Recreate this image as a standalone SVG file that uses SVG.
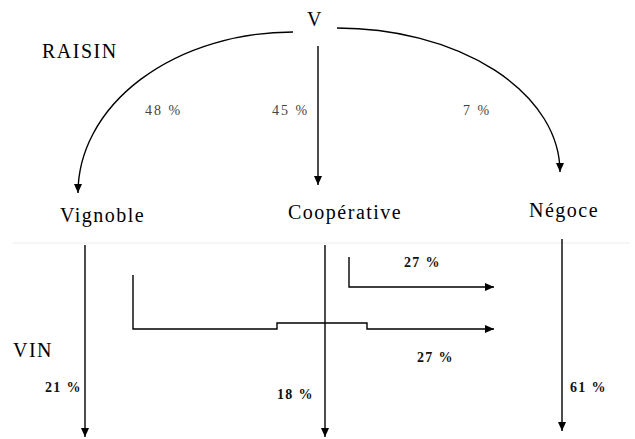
<svg xmlns="http://www.w3.org/2000/svg" width="635" height="439" viewBox="0 0 635 439">
<defs>
<marker id="ah" markerUnits="userSpaceOnUse" markerWidth="10" markerHeight="10" viewBox="0 0 10 10" refX="9" refY="5" orient="auto">
<path d="M0,1 L9,5 L0,9 Z" fill="#000"/>
</marker>
<style>
.t{font-family:"Liberation Serif","Times New Roman",serif;fill:#000}
.lbl{font-size:20px;letter-spacing:1.5px}
.pc{font-size:14px;letter-spacing:2px;fill:#444}
.pb{font-size:14px;letter-spacing:1.3px;font-weight:bold;fill:#111}
.ln{fill:none;stroke:#000;stroke-width:1.4}
</style>
</defs>
<rect width="635" height="439" fill="#fff"/>
<g id="sep"><line x1="13" y1="243" x2="630" y2="243" stroke="#ececec" stroke-width="1"/></g>
<g id="node-V"><text class="t lbl" x="307" y="26">V</text></g>
<g id="raisin"><text class="t lbl" x="42" y="58">RAISIN</text></g>
<g id="vin"><text class="t lbl" x="13" y="357">VIN</text></g>
<g id="node-vignoble"><text class="t lbl" x="60" y="222">Vignoble</text></g>
<g id="node-cooperative"><text class="t lbl" x="288" y="219">Coopérative</text></g>
<g id="node-negoce"><text class="t lbl" x="529" y="217">Négoce</text></g>
<g id="connectors">
<path class="ln" d="M293,32 A215,161 0 0 0 78,193" marker-end="url(#ah)"/>
<path class="ln" d="M318,46 L318,185" marker-end="url(#ah)"/>
<path class="ln" d="M337,28 A223,144 0 0 1 560,172" marker-end="url(#ah)"/>
<path class="ln" d="M85,245 L85,437" marker-end="url(#ah)"/>
<path class="ln" d="M325,245 L325,437" marker-end="url(#ah)"/>
<path class="ln" d="M562,239 L562,431" marker-end="url(#ah)"/>
<path class="ln" d="M349,257 L349,287 L494,287" marker-end="url(#ah)"/>
<path class="ln" d="M133,275 L133,329 L277,329 L277,323 L367,323 L367,329 L494,329" marker-end="url(#ah)"/>
</g>
<g id="labels">
<text class="t pc" x="145" y="115">48 %</text>
<text class="t pc" x="272" y="115">45 %</text>
<text class="t pc" x="463" y="115">7 %</text>
<text class="t pb" x="404" y="267">27 %</text>
<text class="t pb" x="417" y="362">27 %</text>
<text class="t pb" x="45" y="392">21 %</text>
<text class="t pb" x="277" y="399">18 %</text>
<text class="t pb" x="570" y="392">61 %</text>
</g>
</svg>
